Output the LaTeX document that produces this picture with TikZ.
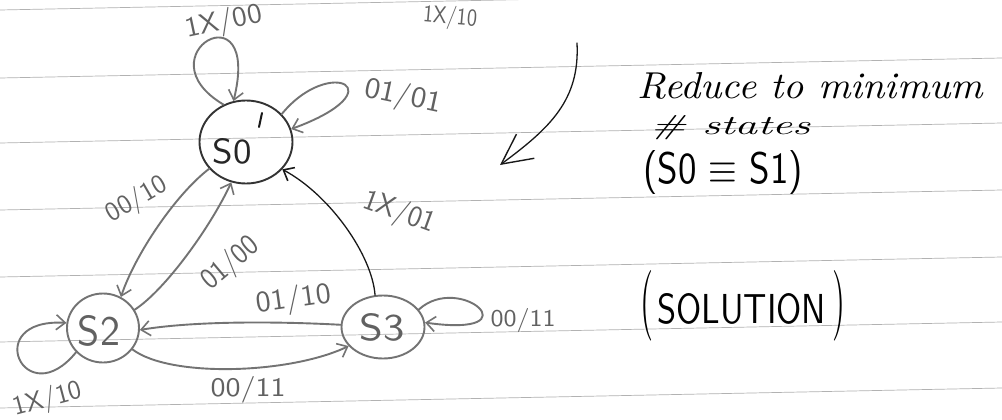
\documentclass[tikz,border=0pt]{standalone}
\usetikzlibrary{arrows.meta,shapes.geometric}
\newcommand\hw[3]{\resizebox{#1pt}{#2pt}{#3}}
\begin{document}
\begin{tikzpicture}[x=1pt,y=-1pt,
  rule/.style={draw=black!30,line width=0.7pt},
  pencil/.style={draw=black!55,line width=1.9pt,line cap=round},
  ink/.style={draw=black!90,line width=1.3pt,line cap=round},
  tip/.style={-{Straight Barb[length=9pt,width=15pt,line width=1.6pt]}},
  statebox/.style={ellipse,draw,inner sep=0pt},
  lbl/.style={text=black!62,font=\sffamily,inner sep=0pt},
  note/.style={text=black,inner sep=0pt}
]
\useasboundingbox (0,0) rectangle (1002,420);
\fill[white] (0,0) rectangle (1002,420);
\foreach \y in {10,78,143,210,277,342,408}
  \draw[rule] (0,\y) -- (1002,\y-20);

% states
\node[statebox,pencil,draw=black!80,minimum width=93pt,minimum height=83pt] (s0) at (246,142) {};
\node[statebox,pencil,minimum width=72pt,minimum height=69pt] (s2) at (103,328) {};
\node[statebox,pencil,minimum width=83pt,minimum height=63pt] (s3) at (383,327) {};
\node[lbl,text=black!85] (s0t) at (232,151) {\hw{39}{25}{S0}};
\node[lbl] (s2t) at (99,331) {\hw{42}{30}{S2}};
\node[lbl] (s3t) at (382,327) {\hw{45}{27}{S3}};
\coordinate (tk1) at (262,113);
\coordinate (tk2) at (259,127);
\draw[ink,line width=2pt] (tk1) -- (tk2);

% transitions
\draw[pencil,tip] (s0.216) .. controls (175,195) and (135,255) .. (s2.60);
\draw[pencil,tip] (s2.30) .. controls (165,290) and (210,228) .. (s0.250);
\draw[ink,tip] (s3.104) .. controls (372,255) and (330,195) .. (s0.323);
\draw[pencil,tip] (s3.177) .. controls (290,322) and (200,320) .. (s2.357);
\draw[pencil,tip] (s2.324) .. controls (170,378) and (290,374) .. (s3.209);
\draw[pencil,tip] (s2.222) .. controls (25,415) and (-20,318) .. (s2.172);
\draw[pencil,tip] (s3.26) .. controls (460,272) and (535,338) .. (s3.6);
\draw[pencil,tip] (s0.121) .. controls (140,55) and (262,-15) .. (s0.107);
\draw[pencil,tip] (s0.38) .. controls (330,55) and (398,90) .. (s0.16);

% labels
\node[lbl,rotate=12] (l1) at (224,23) {\hw{78}{21}{1X/00}};
\node[lbl,rotate=-5] (l2) at (450,18) {\hw{54}{18}{1X/10}};
\node[lbl,rotate=-12] (l3) at (403,97) {\hw{78}{22}{01/01}};
\node[lbl,rotate=30] (l4) at (137,200) {\hw{66}{20}{00/10}};
\node[lbl,rotate=40] (l5) at (231,264) {\hw{66}{22}{01/00}};
\node[lbl,rotate=-20] (l6) at (399,213) {\hw{75}{22}{1X/01}};
\node[lbl,rotate=8] (l7) at (294,300) {\hw{75}{22}{01/10}};
\node[lbl] (l8) at (248,390) {\hw{75}{20}{00/11}};
\node[lbl,rotate=15] (l9) at (48,400) {\hw{70}{20}{1X/10}};
\node[lbl] (l10) at (523,320) {\hw{65}{18}{00/11}};

% big arrow
\coordinate (ba) at (577,43);
\coordinate (bb) at (500,165);
\draw[ink,-{Straight Barb[length=30pt,width=30pt,line width=1.4pt]}] (ba) .. controls (580,100) and (550,128) .. (bb);

% notes
\node[note,anchor=base west] (n1) at (637,98) {\hw{346}{26}{\itshape Reduce to minimum}};
\node[note,anchor=base west] (n2) at (650,135) {\hw{160}{19}{\itshape \# states}};
\node[note,anchor=base west] (n3) at (643,183) {\hw{160}{33}{\sffamily (S0 $\equiv$ S1)}};
\node[note,anchor=base west] (n4) at (640,323) {\hw{13}{53}{(}\hspace{4pt}\hw{169}{30}{\sffamily SOLUTION}\hspace{6pt}\hw{13}{53}{)}};
\end{tikzpicture}
\end{document}
